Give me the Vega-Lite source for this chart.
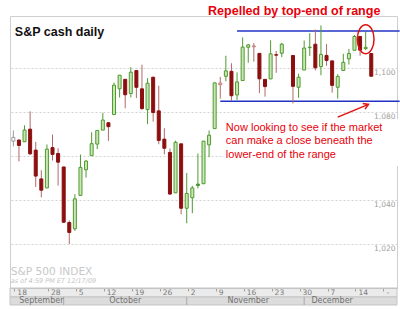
{
  "$schema": "https://vega.github.io/schema/vega-lite/v6.json",
  "width": 387,
  "height": 272,
  "autosize": {"type": "none"},
  "padding": {"left": 10, "top": 16, "right": 3, "bottom": 21},
  "background": "#ffffff",
  "config": {"view": {"stroke": "#cfcfcf"}, "font": "Liberation Sans"},
  "data": {"values": [
    {"day": "2009-09-18", "open": 1066.60, "high": 1071.52, "low": 1064.27, "close": 1068.30},
    {"day": "2009-09-21", "open": 1067.14, "high": 1067.28, "low": 1057.46, "close": 1064.66},
    {"day": "2009-09-22", "open": 1066.35, "high": 1073.81, "low": 1066.35, "close": 1071.66},
    {"day": "2009-09-23", "open": 1072.06, "high": 1080.15, "low": 1060.39, "close": 1060.87},
    {"day": "2009-09-24", "open": 1062.56, "high": 1066.29, "low": 1045.85, "close": 1050.78},
    {"day": "2009-09-25", "open": 1049.48, "high": 1053.47, "low": 1041.17, "close": 1044.38},
    {"day": "2009-09-28", "open": 1045.38, "high": 1065.13, "low": 1045.38, "close": 1062.98},
    {"day": "2009-09-29", "open": 1063.69, "high": 1069.62, "low": 1057.83, "close": 1060.61},
    {"day": "2009-09-30", "open": 1061.02, "high": 1063.40, "low": 1046.47, "close": 1057.08},
    {"day": "2009-10-01", "open": 1054.91, "high": 1054.91, "low": 1029.45, "close": 1029.85},
    {"day": "2009-10-02", "open": 1029.71, "high": 1030.60, "low": 1019.95, "close": 1025.21},
    {"day": "2009-10-05", "open": 1026.87, "high": 1042.58, "low": 1025.92, "close": 1040.46},
    {"day": "2009-10-06", "open": 1042.02, "high": 1060.55, "low": 1042.02, "close": 1054.72},
    {"day": "2009-10-07", "open": 1053.65, "high": 1058.02, "low": 1050.10, "close": 1057.58},
    {"day": "2009-10-08", "open": 1060.03, "high": 1070.67, "low": 1060.03, "close": 1065.48},
    {"day": "2009-10-09", "open": 1065.28, "high": 1071.51, "low": 1063.00, "close": 1071.49},
    {"day": "2009-10-12", "open": 1071.63, "high": 1079.46, "low": 1071.63, "close": 1076.19},
    {"day": "2009-10-13", "open": 1074.96, "high": 1075.30, "low": 1066.71, "close": 1073.19},
    {"day": "2009-10-14", "open": 1078.68, "high": 1093.17, "low": 1078.68, "close": 1092.02},
    {"day": "2009-10-15", "open": 1090.36, "high": 1096.56, "low": 1086.41, "close": 1096.56},
    {"day": "2009-10-16", "open": 1094.67, "high": 1094.67, "low": 1081.53, "close": 1087.68},
    {"day": "2009-10-19", "open": 1088.22, "high": 1100.17, "low": 1086.48, "close": 1097.91},
    {"day": "2009-10-20", "open": 1098.64, "high": 1098.64, "low": 1086.16, "close": 1091.06},
    {"day": "2009-10-21", "open": 1090.36, "high": 1101.36, "low": 1080.77, "close": 1081.40},
    {"day": "2009-10-22", "open": 1080.96, "high": 1095.21, "low": 1074.31, "close": 1092.91},
    {"day": "2009-10-23", "open": 1095.62, "high": 1095.83, "low": 1075.49, "close": 1079.60},
    {"day": "2009-10-26", "open": 1080.36, "high": 1091.75, "low": 1065.23, "close": 1066.95},
    {"day": "2009-10-27", "open": 1067.54, "high": 1072.48, "low": 1060.62, "close": 1063.41},
    {"day": "2009-10-28", "open": 1061.51, "high": 1063.26, "low": 1042.19, "close": 1042.63},
    {"day": "2009-10-29", "open": 1043.19, "high": 1066.83, "low": 1043.19, "close": 1066.11},
    {"day": "2009-10-30", "open": 1065.41, "high": 1065.41, "low": 1033.38, "close": 1036.19},
    {"day": "2009-11-02", "open": 1036.18, "high": 1052.18, "low": 1029.38, "close": 1042.88},
    {"day": "2009-11-03", "open": 1040.92, "high": 1046.36, "low": 1033.94, "close": 1045.41},
    {"day": "2009-11-04", "open": 1047.14, "high": 1061.00, "low": 1045.15, "close": 1046.50},
    {"day": "2009-11-05", "open": 1047.30, "high": 1066.65, "low": 1047.30, "close": 1066.63},
    {"day": "2009-11-06", "open": 1064.95, "high": 1071.48, "low": 1059.32, "close": 1069.30},
    {"day": "2009-11-09", "open": 1072.31, "high": 1093.19, "low": 1072.31, "close": 1093.08},
    {"day": "2009-11-10", "open": 1092.22, "high": 1095.77, "low": 1085.93, "close": 1093.01},
    {"day": "2009-11-11", "open": 1096.05, "high": 1105.37, "low": 1093.81, "close": 1098.51},
    {"day": "2009-11-12", "open": 1098.31, "high": 1101.97, "low": 1084.90, "close": 1087.24},
    {"day": "2009-11-13", "open": 1087.59, "high": 1097.79, "low": 1085.33, "close": 1093.48},
    {"day": "2009-11-16", "open": 1094.13, "high": 1113.69, "low": 1094.13, "close": 1109.30},
    {"day": "2009-11-17", "open": 1109.22, "high": 1110.52, "low": 1102.19, "close": 1110.32},
    {"day": "2009-11-18", "open": 1109.44, "high": 1111.10, "low": 1102.70, "close": 1109.80},
    {"day": "2009-11-19", "open": 1106.44, "high": 1106.44, "low": 1088.40, "close": 1094.90},
    {"day": "2009-11-20", "open": 1094.66, "high": 1094.66, "low": 1086.81, "close": 1091.38},
    {"day": "2009-11-23", "open": 1094.86, "high": 1112.38, "low": 1094.86, "close": 1106.24},
    {"day": "2009-11-24", "open": 1105.83, "high": 1107.56, "low": 1097.63, "close": 1105.65},
    {"day": "2009-11-25", "open": 1106.49, "high": 1111.18, "low": 1104.75, "close": 1110.63},
    {"day": "2009-11-27", "open": 1105.47, "high": 1105.47, "low": 1083.74, "close": 1091.49},
    {"day": "2009-11-30", "open": 1091.07, "high": 1097.24, "low": 1086.25, "close": 1095.63},
    {"day": "2009-12-01", "open": 1098.89, "high": 1112.28, "low": 1098.89, "close": 1108.86},
    {"day": "2009-12-02", "open": 1109.03, "high": 1115.58, "low": 1105.29, "close": 1109.24},
    {"day": "2009-12-03", "open": 1110.59, "high": 1117.28, "low": 1098.74, "close": 1099.92},
    {"day": "2009-12-04", "open": 1100.43, "high": 1119.13, "low": 1096.52, "close": 1105.98},
    {"day": "2009-12-07", "open": 1105.52, "high": 1110.72, "low": 1100.83, "close": 1103.25},
    {"day": "2009-12-08", "open": 1103.04, "high": 1103.04, "low": 1088.61, "close": 1091.94},
    {"day": "2009-12-09", "open": 1091.07, "high": 1097.04, "low": 1085.89, "close": 1095.95},
    {"day": "2009-12-10", "open": 1098.69, "high": 1106.25, "low": 1098.69, "close": 1102.35},
    {"day": "2009-12-11", "open": 1103.96, "high": 1108.45, "low": 1101.34, "close": 1106.41},
    {"day": "2009-12-14", "open": 1107.84, "high": 1114.76, "low": 1107.84, "close": 1114.11},
    {"day": "2009-12-15", "open": 1114.11, "high": 1114.11, "low": 1105.35, "close": 1107.93},
    {"day": "2009-12-16", "open": 1108.61, "high": 1116.21, "low": 1107.96, "close": 1109.18},
    {"day": "2009-12-17", "open": 1106.36, "high": 1106.36, "low": 1095.88, "close": 1096.08}
  ]},
  "transform": [
    {"window": [{"op": "lag", "field": "close", "as": "prev"}], "sort": [{"field": "day"}]}
  ],
  "layer": [
    {
      "data": {"values": [{}]},
      "mark": {"type": "rect", "fill": "#ebebeb", "stroke": "#c4c4c4", "strokeWidth": 1, "clip": false},
      "encoding": {
        "y": {"datum": 1000, "type": "quantitative"},
        "y2": {"datum": 995.92}
      }
    },
    {
      "data": {"values": [{}]},
      "mark": {"type": "rect", "fill": "#dcdcdc", "stroke": "#c4c4c4", "strokeWidth": 1, "clip": false},
      "encoding": {
        "y": {"datum": 995.92, "type": "quantitative"},
        "y2": {"datum": 992.3}
      }
    },
    {
      "data": {"values": [{"first": "2009-10-01"}, {"first": "2009-11-02"}, {"first": "2009-12-01"}]},
      "mark": {"type": "rule", "color": "#a8a8a8", "strokeWidth": 1, "clip": false},
      "encoding": {
        "x": {"field": "first", "type": "ordinal"},
        "y": {"datum": 995.92, "type": "quantitative"},
        "y2": {"datum": 992.3}
      }
    },
    {
      "data": {"values": [
        {"month": "September", "at": "2009-09-25"},
        {"month": "October", "at": "2009-10-16"},
        {"month": "November", "at": "2009-11-17"},
        {"month": "December", "at": "2009-12-08"}
      ]},
      "mark": {"type": "text", "font": "DejaVu Sans", "fontSize": 8, "color": "#707070", "align": "center", "baseline": "middle"},
      "encoding": {
        "x": {"field": "at", "type": "ordinal"},
        "y": {"datum": 994.0, "type": "quantitative"},
        "text": {"field": "month"}
      }
    },
    {
      "data": {"values": [{}]},
      "mark": {"type": "rect", "fill": "#ffffff", "xOffset": -2, "x2Offset": 5},
      "encoding": {
        "x": {"datum": "2009-11-11", "type": "ordinal"},
        "x2": {"datum": "2009-12-23"},
        "y": {"datum": 1076.6, "type": "quantitative"},
        "y2": {"datum": 1055.2}
      }
    },
    {
      "data": {"values": [{"level": "top", "from": "2009-11-13", "price": 1116.6}, {"level": "bottom", "from": "2009-11-10", "price": 1084.7}]},
      "mark": {"type": "rule", "color": "#2233c4", "strokeWidth": 1.6, "x2Offset": 6, "clip": false},
      "encoding": {
        "x": {"field": "from", "type": "ordinal"},
        "x2": {"datum": "2009-12-23"},
        "y": {"field": "price", "type": "quantitative"}
      }
    },
    {
      "mark": {"type": "rule", "strokeWidth": 1},
      "encoding": {
        "x": {"field": "day", "type": "ordinal"},
        "y": {"field": "low", "type": "quantitative"},
        "y2": {"field": "high"},
        "color": {
          "condition": [
            {"test": "datum.prev == null", "value": "#9a9a9a"},
            {"test": "datum.close < datum.prev", "value": "#b06a6a"}
          ],
          "value": "#4f9a30"
        }
      }
    },
    {
      "mark": {"type": "bar", "width": 3, "strokeWidth": 1},
      "encoding": {
        "x": {
          "field": "day",
          "type": "ordinal",
          "scale": {
            "type": "point",
            "padding": 0.6,
            "domain": ["2009-09-18","2009-09-21","2009-09-22","2009-09-23","2009-09-24","2009-09-25","2009-09-28","2009-09-29","2009-09-30","2009-10-01","2009-10-02","2009-10-05","2009-10-06","2009-10-07","2009-10-08","2009-10-09","2009-10-12","2009-10-13","2009-10-14","2009-10-15","2009-10-16","2009-10-19","2009-10-20","2009-10-21","2009-10-22","2009-10-23","2009-10-26","2009-10-27","2009-10-28","2009-10-29","2009-10-30","2009-11-02","2009-11-03","2009-11-04","2009-11-05","2009-11-06","2009-11-09","2009-11-10","2009-11-11","2009-11-12","2009-11-13","2009-11-16","2009-11-17","2009-11-18","2009-11-19","2009-11-20","2009-11-23","2009-11-24","2009-11-25","2009-11-26","2009-11-27","2009-11-30","2009-12-01","2009-12-02","2009-12-03","2009-12-04","2009-12-07","2009-12-08","2009-12-09","2009-12-10","2009-12-11","2009-12-14","2009-12-15","2009-12-16","2009-12-17","2009-12-18","2009-12-21","2009-12-22","2009-12-23"]
          },
          "axis": {
            "orient": "bottom",
            "title": null,
            "zindex": 1,
            "values": ["2009-09-18","2009-09-28","2009-10-05","2009-10-12","2009-10-19","2009-10-26","2009-11-02","2009-11-09","2009-11-16","2009-11-23","2009-11-30","2009-12-07","2009-12-14","2009-12-21"],
            "labelExpr": "datum.value == '2009-12-21' ? '-' : '' + toNumber(substring(datum.value, 8, 10))",
            "labelAngle": 0,
            "labelAlign": "left",
            "labelBaseline": "top",
            "labelOffset": 2.5,
            "tickOffset": 1,
            "labelPadding": -3,
            "labelFont": "DejaVu Sans",
            "labelFontSize": 7.5,
            "labelColor": "#7a7a7a",
            "labelOverlap": false,
            "labelFlush": false,
            "tickSize": 3,
            "tickColor": "#a0a0a0",
            "domainColor": "#c4c4c4",
            "grid": false
          }
        },
        "y": {
          "field": "open",
          "type": "quantitative",
          "scale": {"domain": [1000, 1123.4], "nice": false, "zero": false},
          "axis": {
            "orient": "right",
            "title": null,
            "values": [1020, 1040, 1060, 1080, 1100],
            "labelExpr": "datum.value == 1060 ? '' : format(datum.value, ',')",
            "offset": -2,
            "ticks": false,
            "domain": false,
            "labelAlign": "right",
            "labelBaseline": "top",
            "labelOffset": 1,
            "labelPadding": 0,
            "labelFont": "DejaVu Sans",
            "labelFontSize": 7.5,
            "labelColor": "#a0a0a0",
            "grid": true,
            "gridColor": "#d2d2d2",
            "gridDash": [2, 2]
          }
        },
        "y2": {"field": "close"},
        "fill": {
          "condition": [
            {"test": "datum.prev == null", "value": "#ffffff"},
            {"test": "datum.close < datum.prev && datum.close < datum.open", "value": "#8c0f0f"},
            {"test": "datum.close < datum.prev", "value": "#f2d4d4"},
            {"test": "datum.close < datum.open", "value": "#3b7f1e"}
          ],
          "value": "#c9e6b4"
        },
        "stroke": {
          "condition": [
            {"test": "datum.prev == null", "value": "#9a9a9a"},
            {"test": "datum.close < datum.prev && datum.close < datum.open", "value": "#8c0f0f"},
            {"test": "datum.close < datum.prev", "value": "#c27a7a"}
          ],
          "value": "#4f9a30"
        }
      }
    },
    {
      "data": {"values": [{"note": "S&P cash daily"}]},
      "mark": {"type": "text", "font": "Liberation Sans", "fontSize": 12.5, "fontWeight": "bold", "color": "#111111", "align": "left", "baseline": "alphabetic", "dx": 1.5},
      "encoding": {
        "x": {"datum": "2009-09-18", "type": "ordinal"},
        "y": {"datum": 1114.2, "type": "quantitative"},
        "text": {"field": "note"}
      }
    },
    {
      "data": {"values": [{"note": "Repelled by top-end of range"}]},
      "mark": {"type": "text", "font": "Liberation Sans", "fontSize": 12.5, "fontWeight": "bold", "color": "#e8000b", "align": "left", "baseline": "alphabetic", "dx": -1},
      "encoding": {
        "x": {"datum": "2009-11-06", "type": "ordinal"},
        "y": {"datum": 1123.7, "type": "quantitative"},
        "text": {"field": "note"}
      }
    },
    {
      "data": {"values": [{}]},
      "mark": {"type": "text", "font": "Liberation Sans", "fontSize": 11, "color": "#e8000b", "align": "left", "baseline": "alphabetic", "lineHeight": 13.3},
      "encoding": {
        "x": {"datum": "2009-11-11", "type": "ordinal"},
        "y": {"datum": 1071.25, "type": "quantitative"},
        "text": {"value": ["Now looking to see if the market", "can make a close beneath the", "lower-end of the range"]}
      }
    },
    {
      "data": {"values": [{"note": "S&P 500 INDEX"}]},
      "mark": {"type": "text", "font": "DejaVu Sans", "fontSize": 10.6, "color": "#c8c8c8", "align": "left", "baseline": "alphabetic", "dx": -2.5},
      "encoding": {
        "x": {"datum": "2009-09-18", "type": "ordinal"},
        "y": {"datum": 1006.0, "type": "quantitative"},
        "text": {"field": "note"}
      }
    },
    {
      "data": {"values": [{"note": "as of 4:59 PM ET 12/17/09"}]},
      "mark": {"type": "text", "font": "DejaVu Sans", "fontSize": 6.5, "fontStyle": "italic", "color": "#c4c4c4", "align": "left", "baseline": "alphabetic", "dx": -2.5},
      "encoding": {
        "x": {"datum": "2009-09-18", "type": "ordinal"},
        "y": {"datum": 1002.4, "type": "quantitative"},
        "text": {"field": "note"}
      }
    },
    {
      "data": {"values": [{}]},
      "mark": {"type": "rule", "color": "#e01010", "strokeWidth": 1.5, "x2Offset": -2.8},
      "encoding": {
        "x": {"datum": "2009-12-09", "type": "ordinal"},
        "x2": {"datum": "2009-12-17"},
        "y": {"datum": 1077.5, "type": "quantitative"},
        "y2": {"datum": 1083.3}
      }
    },
    {
      "data": {"values": [{}]},
      "mark": {"type": "point", "shape": "M-1,-0.6L0,0L-1,0.6", "filled": false, "color": "#e01010", "strokeWidth": 1.5, "size": 100, "angle": 337.4, "xOffset": -2.8, "opacity": 1},
      "encoding": {
        "x": {"datum": "2009-12-17", "type": "ordinal"},
        "y": {"datum": 1083.3, "type": "quantitative"}
      }
    },
    {
      "data": {"values": [{}]},
      "mark": {"type": "point", "shape": "M0,-1C0.318,-1,0.576,-0.552,0.576,0C0.576,0.552,0.318,1,0,1C-0.318,1,-0.576,0.552,-0.576,0C-0.576,-0.552,-0.318,-1,0,-1Z", "filled": false, "color": "#e01010", "strokeWidth": 1.5, "size": 841, "opacity": 1},
      "encoding": {
        "x": {"datum": "2009-12-16", "type": "ordinal"},
        "y": {"datum": 1112.9, "type": "quantitative"}
      }
    }
  ]
}
